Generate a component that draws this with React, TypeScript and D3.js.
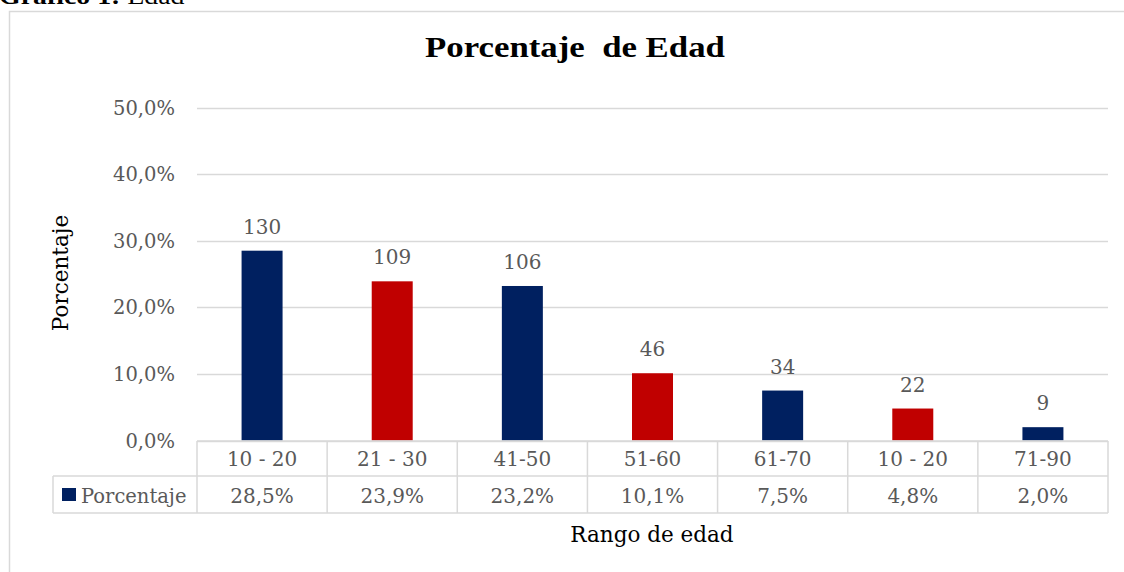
import React from "react";
import * as d3 from "d3";

const categories = ["10 - 20", "21 - 30", "41-50", "51-60", "61-70", "10 - 20", "71-90"];
const counts = [130, 109, 106, 46, 34, 22, 9];
const percents = [0.285, 0.239, 0.232, 0.101, 0.075, 0.048, 0.02];
const yTicks = [0, 0.1, 0.2, 0.3, 0.4, 0.5];
const seriesName = "Porcentaje";
const chartTitle = "Porcentaje  de Edad";
const xTitle = "Rango de edad";
const yTitle = "Porcentaje";

const W = 1124;
const H = 572;
const NAVY = "#002060";
const RED = "#C00000";
const GRID = "#D9D9D9";
const TXT = "#595959";
const FONT = "'DejaVu Serif', serif";
const TIMES = "'Liberation Serif', 'Times New Roman', serif";

const locale = d3.formatLocale({ decimal: ",", thousands: ".", grouping: [3], currency: ["", "€"] });
const pct = locale.format(".1%");

export default function App() {
  const left = 197;
  const right = 1108;
  const x = d3
    .scaleBand<number>()
    .domain(categories.map((_, i) => i))
    .range([left, right])
    .paddingInner(0.685)
    .paddingOuter(0.3425);
  const step = (right - left) / categories.length;
  const y = d3.scaleLinear().domain([0, 0.5]).range([440.5, 107.5]);
  const row1Top = 441;
  const row2Top = 476;
  const rowBottom = 513;
  const legendLeft = 53;
  const colorOf = (i: number) => (i % 2 === 0 ? NAVY : RED);

  return (
    <svg
      width={W}
      height={H}
      style={{ position: "absolute", left: 0, top: 0, background: "#fff" }}
    >
      <rect x={0} y={0} width={W} height={H} fill="#fff" />
      <text
        transform="translate(-1,4) scale(1.16,1)"
        fontFamily={TIMES}
        fontSize={24}
        fill="#000"
      >
        <tspan fontWeight="bold">Gráfico 1:</tspan>
        <tspan> Edad</tspan>
      </text>
      <rect x={9.5} y={11.5} width={1140} height={600} fill="none" stroke={GRID} strokeWidth={1.5} />

      <text
        transform="translate(575,57) scale(1.16,1)"
        textAnchor="middle"
        fontFamily={TIMES}
        fontWeight="bold"
        fontSize={30}
        fill="#000"
        style={{ whiteSpace: "pre" }}
      >
        {chartTitle}
      </text>

      {yTicks.map((t) => (
        <g key={t}>
          <line x1={left} x2={right} y1={Math.round(y(t)) + 0.5} y2={Math.round(y(t)) + 0.5} stroke={GRID} strokeWidth={1.5} />
          <text x={175} y={y(t)} dy="0.36em" textAnchor="end" fontFamily={FONT} fontSize={19.5} fill={TXT}>
            {pct(t)}
          </text>
        </g>
      ))}

      {percents.map((p, i) => (
        <g key={i}>
          <rect x={x(i)} y={y(p)} width={x.bandwidth()} height={y(0) - y(p)} fill={colorOf(i)} />
          <text
            x={(x(i) as number) + x.bandwidth() / 2}
            y={y(p) - 17}
            textAnchor="middle"
            fontFamily={FONT}
            fontSize={20}
            fill={TXT}
          >
            {counts[i]}
          </text>
        </g>
      ))}

      {/* data table */}
      <g stroke={GRID} strokeWidth={1.5} fill="none">
        <line x1={left} x2={right} y1={row1Top} y2={row1Top} />
        <line x1={legendLeft} x2={right} y1={row2Top} y2={row2Top} />
        <line x1={legendLeft} x2={right} y1={rowBottom} y2={rowBottom} />
        <line x1={legendLeft} x2={legendLeft} y1={row2Top} y2={rowBottom} />
        {d3.range(categories.length + 1).map((k) => (
          <line key={k} x1={left + k * step} x2={left + k * step} y1={row1Top} y2={rowBottom} />
        ))}
      </g>
      {categories.map((c, i) => (
        <g key={i}>
          <text x={left + (i + 0.5) * step} y={466} textAnchor="middle" fontFamily={FONT} fontSize={20} fill={TXT}>
            {c}
          </text>
          <text x={left + (i + 0.5) * step} y={503} textAnchor="middle" fontFamily={FONT} fontSize={20} fill={TXT}>
            {pct(percents[i])}
          </text>
        </g>
      ))}
      <rect x={62} y={488} width={14} height={13} fill={NAVY} />
      <text x={81} y={503} fontFamily={FONT} fontSize={19.5} fill={TXT}>
        {seriesName}
      </text>

      <text
        transform="translate(68,273) rotate(-90)"
        textAnchor="middle"
        fontFamily={FONT}
        fontSize={21.5}
        fill="#000"
      >
        {yTitle}
      </text>
      <text x={652} y={542} textAnchor="middle" fontFamily={FONT} fontSize={21.5} fill="#000">
        {xTitle}
      </text>
    </svg>
  );
}
